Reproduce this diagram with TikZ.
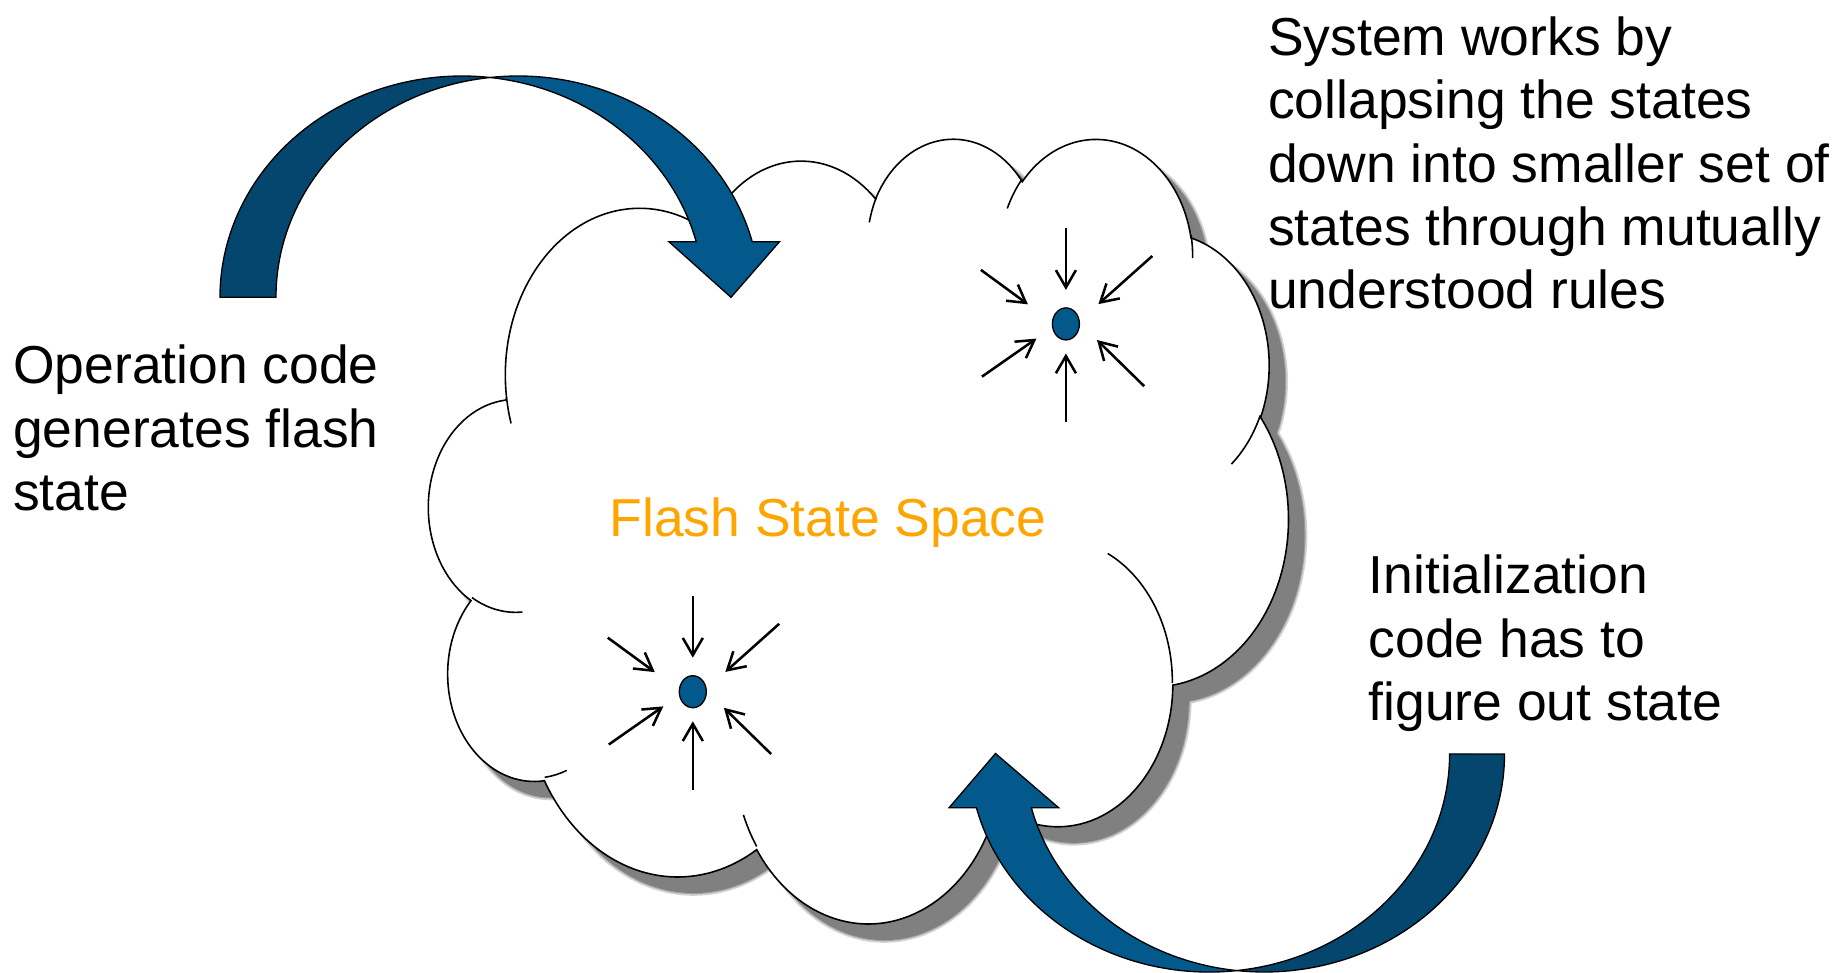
\documentclass[tikz,border=0pt]{standalone}
\usepackage{fontspec}
\setmainfont{Liberation Sans}
\usetikzlibrary{arrows.meta,calc,shapes.geometric}

\definecolor{bandfront}{HTML}{03598C}
\definecolor{bandback}{HTML}{05466F}
\definecolor{shadowgray}{HTML}{808080}
\definecolor{labelorange}{HTML}{FFA500}

% Elliptical arc given by radii, start angle and sweep measured on the
% ellipse's visual angle (converted here to the parametric angle TikZ uses).
\newcommand\cloudarc[4]{%
  \pgfextra{%
    \pgfmathsetmacro\cldA{atan2((#1)*sin(#3),(#2)*cos(#3))}%
    \pgfmathsetmacro\cldB{atan2((#1)*sin((#3)+(#4)),(#2)*cos((#3)+(#4)))}%
    \pgfmathsetmacro\cldB{\cldB+360*(\cldB<\cldA)}%
  }%
  arc[start angle=\cldA, end angle=\cldB, x radius=#1, y radius=#2]%
}

% Outline of the cloud in a 432 x 432 box (y pointing down)
\newcommand\cloudoutline{%
  (39.00,143.70)
  \cloudarc{67.53}{91.90}{-190.48748}{123.78053}
  \cloudarc{53.33}{72.67}{-144.10238}{89.94523}
  \cloudarc{43.65}{59.45}{-145.80792}{99.72302}
  \cloudarc{48.57}{65.95}{-130.98607}{117.24173}
  \cloudarc{53.33}{72.73}{-78.70888}{109.02692}
  \cloudarc{67.75}{92.20}{-46.26725}{130.269}
  \cloudarc{57.85}{78.67}{0.62502}{114.03333}
  \cloudarc{67.52}{92.15}{22.4516}{115.17255}
  \cloudarc{77.20}{105.43}{66.24263}{75.71102}
  \cloudarc{43.60}{59.18}{-274.94208}{146.73557}
  \cloudarc{43.45}{59.45}{-246.8285}{152.51885}
  -- cycle}

\tikzset{
  cloudline/.style={draw=black, line width=0.45pt},
  bandedge/.style={draw=black, line width=0.38pt, line join=miter},
  caption/.style={font=\fontsize{15.2}{18}\selectfont, align=left,
    anchor=north west, inner sep=0pt},
  sink/.style={ellipse, draw=black, line width=0.38pt, fill=bandfront,
    minimum width=0.27cm, minimum height=0.32cm, inner sep=0pt},
  ray/.style={line width=0.72pt, -{Straight Barb[length=4.9pt,width=5.7pt]}},
}

\begin{document}
\begin{tikzpicture}[x=0.01cm, y=-0.01cm]
\useasboundingbox (0,0) rectangle (1833,973);
\fill[white] (0,0) rectangle (1833,973);

% cloud shadow with a slightly soft edge
\begin{scope}[shift={(445,152.7)}, xscale=1.98866, yscale=1.81574]
  \path[draw=shadowgray, draw opacity=0.35, line width=1.6pt] \cloudoutline;
  \path[fill=shadowgray, draw=shadowgray, draw opacity=0.6, line width=0.6pt] \cloudoutline;
\end{scope}

% cloud body and its inner creases
\begin{scope}[shift={(429,136.7)}, xscale=1.98866, yscale=1.81574]
  \path[fill=white, cloudline] \cloudoutline;
  \draw[cloudline] (46.93,261.77)  \cloudarc{43.45}{59.45}{86.742}{26.4295};
  \draw[cloudline] (69.28,348.99)  \cloudarc{43.60}{59.18}{73.61047}{11.44747};
  \draw[cloudline] (164.78,390.90) \cloudarc{67.52}{92.15}{137.62415}{14.0811};
  \draw[cloudline] (288.27,347.51) \cloudarc{67.52}{92.15}{6.45327}{15.99835};
  \draw[cloudline] (341.29,229.54) \cloudarc{57.85}{78.67}{-70.29235}{70.91737};
  \draw[cloudline] (417.98,153.54) \cloudarc{53.33}{72.73}{30.31803}{27.7515};
  \draw[cloudline] (383.24,54.26)  \cloudarc{48.57}{65.95}{-13.74433}{14.8589};
  \draw[cloudline] (290.78,39.52)  \cloudarc{48.57}{65.95}{-149.18145}{18.19537};
  \draw[cloudline] (221.41,47.20)  \cloudarc{43.65}{59.45}{-163.49427}{17.68635};
  \draw[cloudline] (140.00,51.92)  \cloudarc{67.53}{91.90}{-66.70695}{12.31935};
  \draw[cloudline] (41.27,157.89)  \cloudarc{67.53}{91.90}{157.65435}{11.85817};
\end{scope}

\node[font=\fontsize{15.2}{18}\selectfont, text=labelorange, anchor=base,
  inner sep=0pt] (space) at (828,536) {Flash State Space};

% attractor points with converging arrows
\node[sink] (sinkA) at (1065.9,323.9) {};
\node[sink] (sinkB) at (692.8,691.7) {};
\foreach \c in {sinkA,sinkB}{
  \foreach \sx/\sy/\ex/\ey in {0/-96/0/-34, -85/-54/-38/-19.6,
      86.4/-67.9/32.5/-19.8, -84/52.8/-29.5/14.7,
      78.3/62.3/31.1/16.1, 0/98.3/0/29.6}
    \draw[ray] ($(\c)+(\sx,\sy)$) -- ($(\c)+(\ex,\ey)$);
}

% curved arrow into the cloud (top)
\path[fill=bandback, bandedge] (220,297.3)
  arc[start angle=180, end angle=276.64, x radius=242, y radius=221.3]
  arc[start angle=263.36, end angle=180, x radius=242, y radius=221.3]
  -- cycle;
\path[fill=bandfront, bandedge] (490,77.5)
  arc[start angle=263.36, end angle=345.45, x radius=242, y radius=221.3]
  -- (779.5,241.7) -- (731,297.3) -- (668.9,241.7) -- (696.2,241.7)
  arc[start angle=345.45, end angle=276.64, x radius=242, y radius=221.3]
  -- cycle;

% curved arrow back into the cloud (bottom)
\path[fill=bandback, bandedge] (1504.5,754)
  arc[start angle=0, end angle=96.57, x radius=240.3, y radius=218]
  arc[start angle=83.45, end angle=0, x radius=240.3, y radius=218]
  -- cycle;
\path[fill=bandfront, bandedge] (1236.7,970.6)
  arc[start angle=83.45, end angle=165.74, x radius=240.3, y radius=218]
  -- (949.1,807.7) -- (995.5,753.5) -- (1058.6,807.7) -- (1031.3,807.7)
  arc[start angle=165.74, end angle=96.57, x radius=240.3, y radius=218]
  -- cycle;

% captions
\node[caption] (opcode) at (12.5,344.4) {Operation code\\generates flash\\state};
\node[caption] (collapse) at (1267.5,16.1) {System works by\\collapsing the states\\down into smaller set of\\states through mutually\\understood rules};
\node[caption] (initcode) at (1368,554.4) {Initialization\\code has to\\figure out state};
\end{tikzpicture}
\end{document}
